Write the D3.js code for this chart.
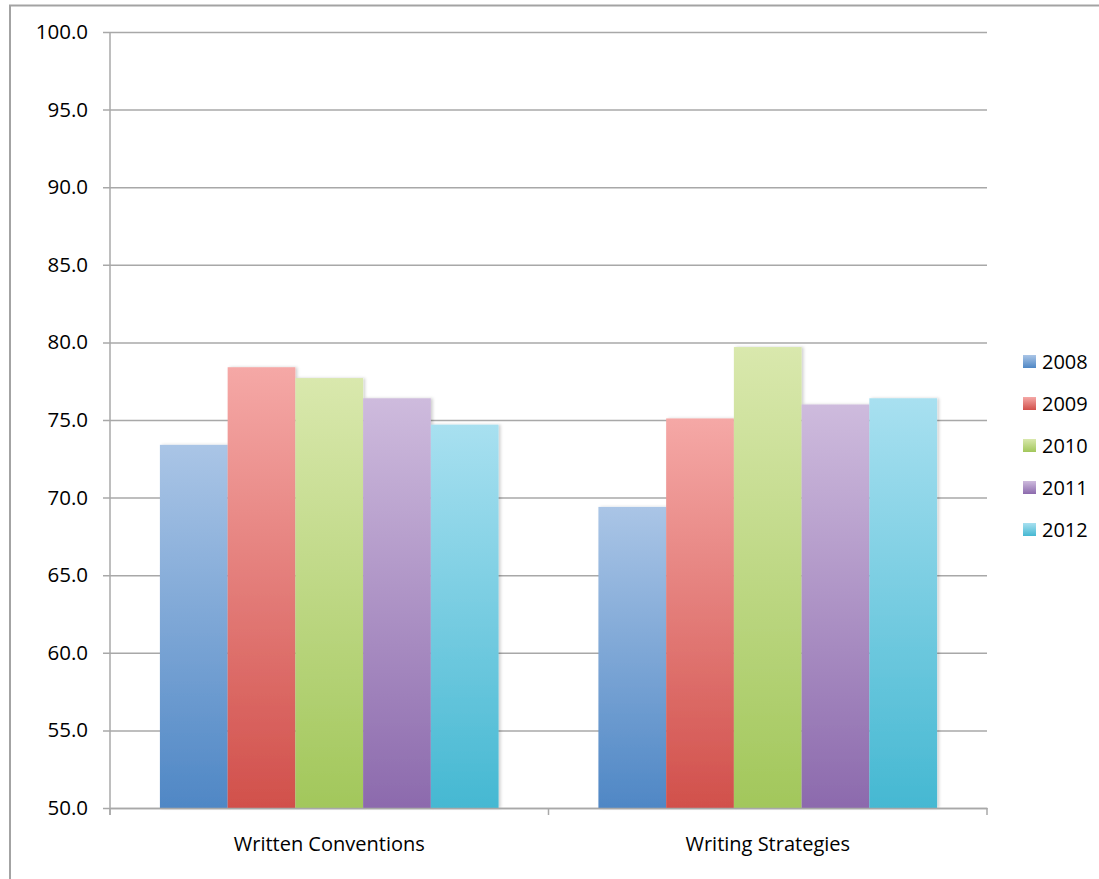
<!DOCTYPE html>
<html><head><meta charset="utf-8">
<script src="https://cdn.jsdelivr.net/npm/d3@7"></script>
<style>body{margin:0;background:#fff}svg{display:block}</style>
</head><body>
<svg id="c" width="1099" height="879"></svg>
<script>
const categories = ["Written Conventions", "Writing Strategies"];
const years = ["2008", "2009", "2010", "2011", "2012"];
const v2008 = [73.4, 69.4];
const v2009 = [78.4, 75.1];
const v2010 = [77.7, 79.7];
const v2011 = [76.4, 76.0];
const v2012 = [74.7, 76.4];
const yTicks = [50, 55, 60, 65, 70, 75, 80, 85, 90, 95, 100];
const series = [v2008, v2009, v2010, v2011, v2012];
const topColors = ["#aac5e6", "#f5a8a6", "#d9e8ad", "#cebbdd", "#a8e0f0"];
const botColors = ["#4f87c5", "#d1504b", "#a2c75b", "#8c6aad", "#45b8d2"];

const svg = d3.select("#c");
const font = "'Open Sans', sans-serif";
const L = 110, R = 987, T = 32, B = 808;

// outer frame
svg.append("path").attr("d", `M10,879 L10,5.5 L1099,5.5`).attr("fill", "none")
  .attr("stroke", "#a3a3a3").attr("stroke-width", 2);

const x0 = d3.scaleBand().domain(categories).range([L, R]).paddingInner(0).paddingOuter(0);
const x1 = d3.scaleBand().domain(years).range([0, x0.bandwidth()]).paddingOuter(0.737).paddingInner(0);
const y = d3.scaleLinear().domain([50, 100]).range([B, T]);

// gradients
const defs = svg.append("defs");
years.forEach((yr, i) => {
  const g = defs.append("linearGradient").attr("id", "g" + i).attr("x1", 0).attr("y1", 0).attr("x2", 0).attr("y2", 1);
  g.append("stop").attr("offset", "0%").attr("stop-color", topColors[i]);
  g.append("stop").attr("offset", "100%").attr("stop-color", botColors[i]);
});
const sh = defs.append("filter").attr("id", "sh").attr("x", "-10%").attr("y", "-10%").attr("width", "130%").attr("height", "130%");
sh.append("feDropShadow").attr("dx", 2).attr("dy", 0).attr("stdDeviation", 1.5).attr("flood-color", "#000").attr("flood-opacity", 0.18);

// gridlines
const yAxis = d3.axisLeft(y).tickValues(yTicks).tickSize(-(R - L)).tickSizeOuter(0).tickPadding(14)
  .tickFormat(d3.format(".1f"));
const ga = svg.append("g").attr("transform", `translate(${L},0)`).call(yAxis);
ga.select(".domain").remove();
ga.selectAll(".tick line").attr("stroke", "#a8a8a8").attr("stroke-width", 1.5).attr("x1", -7);
ga.selectAll(".tick text").attr("font-family", font).attr("font-size", 20.5).attr("fill", "#000").attr("x", -22);

// bars
categories.forEach((c, ci) => {
  years.forEach((yr, si) => {
    const v = series[si][ci];
    svg.append("rect")
      .attr("x", x0(c) + x1(yr)).attr("y", y(v))
      .attr("width", x1.bandwidth()).attr("height", y(50) - y(v))
      .attr("fill", `url(#g${si})`).attr("filter", "url(#sh)");
  });
});

// y axis line
svg.append("line").attr("x1", L).attr("x2", L).attr("y1", T).attr("y2", B + 7)
  .attr("stroke", "#a8a8a8").attr("stroke-width", 1.5);

// x axis
const xAxis = d3.axisBottom(x0).tickSize(0).tickPadding(29);
const gx = svg.append("g").attr("transform", `translate(0,${B})`).call(xAxis);
gx.select(".domain").attr("stroke", "#a8a8a8").attr("stroke-width", 1.5);
gx.selectAll(".tick text").attr("font-family", font).attr("font-size", 20).attr("fill", "#000");
// category boundary ticks
const bounds = [L, x0(categories[1]), R];
svg.selectAll(".bt").data(bounds).enter().append("line")
  .attr("x1", d => d).attr("x2", d => d).attr("y1", B).attr("y2", B + 7)
  .attr("stroke", "#a8a8a8").attr("stroke-width", 1.5);

// legend
const lg = svg.append("g").attr("transform", "translate(1023,362)");
years.forEach((yr, i) => {
  const r = lg.append("g").attr("transform", `translate(0,${i * 42})`);
  r.append("rect").attr("x", 0).attr("y", -7).attr("width", 13).attr("height", 13).attr("fill", `url(#g${i})`);
  r.append("text").attr("x", 19).attr("y", 0).attr("dy", "0.36em").attr("font-family", font)
    .attr("font-size", 20).attr("fill", "#000").text(yr);
});
</script>
</body></html>
